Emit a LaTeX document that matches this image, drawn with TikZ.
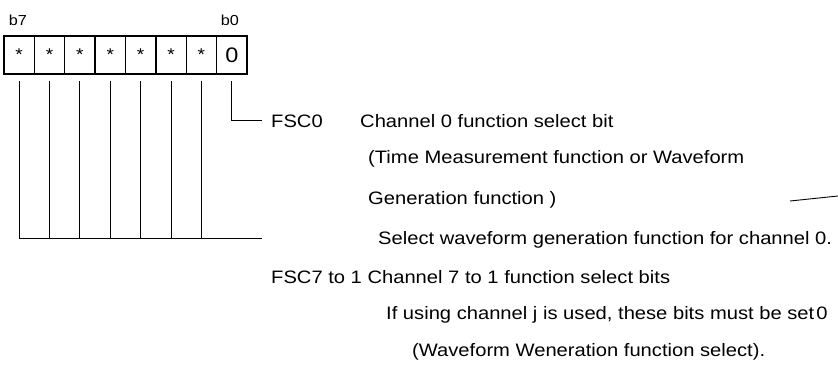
\documentclass[tikz,border=0pt]{standalone}
\usepackage{fontspec}
\setmainfont{Liberation Sans}[FakeStretch=1.12]
\begin{document}
\begin{tikzpicture}[x=1pt,y=-1pt,
  cell/.style={draw, line width=1.4pt, minimum width=30.375pt, minimum height=38pt,
    inner sep=0pt, outer sep=0pt, font=\fontsize{17}{17}\selectfont},
  bitlbl/.style={inner sep=0pt, font=\fontsize{14.5}{14.5}\selectfont},
  lead/.style={line width=0.9pt},
  txt/.style={anchor=base west, inner sep=0pt, font=\fontsize{18}{20}\selectfont}]
\useasboundingbox (0,0) rectangle (838,365);

% register cells b7 .. b0
\node[cell, anchor=north west] (c7) at (4,36) {*};
\foreach \i [evaluate=\i as \j using int(\i+1)] in {6,...,1}
  \node[cell, anchor=west] (c\i) at (c\j.east) {*};
\node[cell, anchor=west, font=\fontsize{21}{21}\selectfont] (c0) at (c1.east) {0};

% bit position labels
\node[bitlbl] (lb7) at (18,20) {b7};
\node[bitlbl] (lb0) at (230,20) {b0};

% descriptions
\node[txt] (fsc0) at (271,127) {FSC0};
\node[txt] (d0a) at (360,127) {Channel 0 function select bit};
\node[txt] (d0b) at (368,163) {(Time Measurement function or Waveform};
\node[txt] (d0c) at (368,204) {Generation function )};
\node[txt] (d0d) at (378,244) {Select waveform generation function for channel 0.};
\node[txt] (fsc7) at (271,283) {FSC7 to 1 Channel 7 to 1 function select bits};
\node[txt] (d7a) at (386,319) {If using channel j is used, these bits must be set\hspace{0.12em}0};
\node[txt] (d7b) at (412,356) {(Waveform Weneration function select).};

% leader lines
\coordinate (busend) at (262,238);
\foreach \i in {7,...,1}
  \draw[lead] ([yshift=-7pt]c\i.south) -- (c\i.south |- busend);
\draw[lead] (c7.south |- busend) -- (busend);
\draw[lead] ([yshift=-7pt]c0.south) |- ([xshift=-9pt]fsc0.west);

% stray mark at the right edge
\coordinate (r1) at (790,201);
\coordinate (r2) at (838,196);
\draw[lead] (r1) -- (r2);
\end{tikzpicture}
\end{document}
